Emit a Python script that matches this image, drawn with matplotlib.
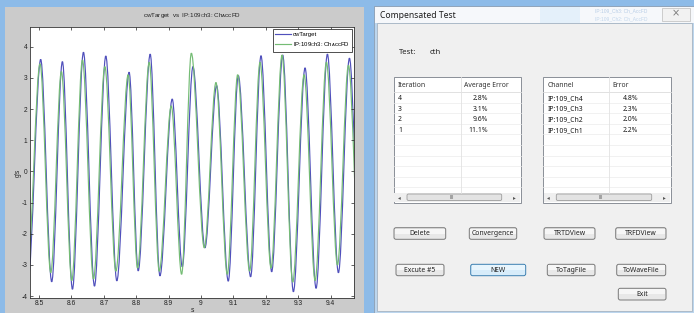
import matplotlib
matplotlib.use('Agg')
import matplotlib.pyplot as plt
from matplotlib.path import Path
from matplotlib.patches import PathPatch, Rectangle, FancyBboxPatch
from matplotlib.lines import Line2D

plt.rcParams['font.family'] = ['Liberation Sans', 'DejaVu Sans']
plt.rcParams['mathtext.fontset'] = 'custom'
plt.rcParams['mathtext.rm'] = 'Liberation Sans'

# 波形の極値 (時刻 s, 値 g's) - 図から読み取り
target_t = [8.466, 8.505, 8.539, 8.572, 8.603, 8.637, 8.671, 8.706, 8.740, 8.778,
            8.806, 8.843, 8.873, 8.911, 8.942, 8.975, 9.012, 9.048, 9.084, 9.115,
            9.153, 9.185, 9.218, 9.252, 9.285, 9.321, 9.355, 9.390, 9.424, 9.458, 9.492]
target_v = [-3.45, 3.59, -3.54, 3.52, -3.78, 3.82, -3.68, 3.70, -3.51, 3.18,
            -3.19, 3.76, -3.35, 2.32, -3.06, 3.36, -2.45, 2.75, -3.52, 3.07,
            -3.38, 3.71, -3.22, 3.73, -3.86, 3.32, -3.75, 3.76, -3.25, 3.63, -3.30]
accfd_t = [8.464, 8.503, 8.536, 8.569, 8.601, 8.634, 8.668, 8.703, 8.737, 8.775,
           8.804, 8.840, 8.871, 8.908, 8.940, 8.970, 9.010, 9.046, 9.081, 9.113,
           9.150, 9.182, 9.216, 9.250, 9.283, 9.318, 9.352, 9.387, 9.421, 9.455, 9.490]
accfd_v = [-3.20, 3.45, -3.25, 3.20, -3.50, 3.57, -3.45, 3.36, -3.20, 3.10,
           -3.10, 3.50, -3.20, 2.10, -3.30, 3.79, -2.45, 2.85, -3.30, 3.10,
           -3.20, 3.50, -3.10, 3.73, -3.55, 3.10, -3.50, 3.50, -3.00, 3.40, -3.10]

x_ticks = [8.5, 8.6, 8.7, 8.8, 8.9, 9.0, 9.1, 9.2, 9.3, 9.4]
x_tick_labels = ['8.5', '8.6', '8.7', '8.8', '8.9', '9', '9.1', '9.2', '9.3', '9.4']
y_ticks = [-4, -3, -2, -1, 0, 1, 2, 3, 4]
y_tick_labels = ['-4', '-3', '-2', '-1', '0', '1', '2', '3', '4']

iterations = ['4', '3', '2', '1']
avg_errors = ['2.8%', '3.1%', '9.6%', '11.1%']
channels = ['IP:109_Ch4', 'IP:109_Ch3', 'IP:109_Ch2', 'IP:109_Ch1']
channel_errors = ['4.8%', '2.3%', '2.0%', '2.2%']
button_labels = ['Delete', 'Convergence', 'TRTDView', 'TRFDView',
                 'Excute #5', 'NEW', 'ToTagFile', 'ToWaveFile', 'Exit']

W, H = 694, 313
UI = ['Noto Sans', 'DejaVu Sans']
BLUE = '#5050bc'
GREEN = '#74bc74'


def wave_path(t, v):
    # 極値の間を水平接線のベジェで結ぶ
    verts = [(t[0], v[0])]
    codes = [Path.MOVETO]
    for i in range(1, len(t)):
        dt = t[i] - t[i - 1]
        verts += [(t[i - 1] + dt / 3, v[i - 1]), (t[i] - dt / 3, v[i]), (t[i], v[i])]
        codes += [Path.CURVE4] * 3
    return Path(verts, codes)


def button(ov, x0, x1, y0, y1, label, active=False):
    face = '#d7ecfa' if active else '#e8e8e8'
    edge = '#3c7fb1' if active else '#7a7a7a'
    ov.add_patch(FancyBboxPatch((x0, y0), x1 - x0, y1 - y0,
                                boxstyle='round,pad=0,rounding_size=2',
                                fc=face, ec=edge, lw=0.7))
    ov.add_patch(Rectangle((x0 + 1, y0 + 1), x1 - x0 - 2, (y1 - y0) / 2 - 1,
                           fc='#f6f6f6' if not active else '#e8f5fd', lw=0))
    ov.text((x0 + x1) / 2, (y0 + y1) / 2 + 0.3, label, ha='center', va='center',
            fontsize=4.9, family=UI, color='#202020')


def listbox(ov, x0, x1, xdiv, col1, col2, head1, head2, right2):
    y0, y1 = 77.3, 202.7
    ov.add_patch(Rectangle((x0, y0), x1 - x0, y1 - y0, fc='white', ec='#8a8f98', lw=0.7))
    ov.plot([x0, x1], [92, 92], color='#dcdcdc', lw=0.6)
    y = 92 + 10.6
    while y < 192:
        ov.plot([x0, x1], [y, y], color='#ececec', lw=0.5)
        y += 10.6
    ov.plot([xdiv, xdiv], [y0, 192.7], color='#e2e2e2', lw=0.6)
    ov.text(x0 + 4, 85.5, head1, fontsize=4.9, family=UI, va='center', color='#333333')
    ov.text(xdiv + 3.5, 85.5, head2, fontsize=4.9, family=UI, va='center', color='#333333')
    for i, (a, b) in enumerate(zip(col1, col2)):
        yy = 98.6 + 10.6 * i
        ov.text(x0 + 4, yy, a, fontsize=4.9, family=UI, va='center', color='#1a1a1a')
        ov.text(right2, yy, b, fontsize=4.9, family=UI, va='center', ha='right', color='#1a1a1a')
    # スクロールバー
    ov.add_patch(Rectangle((x0 + 0.5, 192.7), x1 - x0 - 1, 9.5, fc='#efefef', lw=0))
    ov.add_patch(FancyBboxPatch((x0 + 13, 194), x1 - x0 - 32, 6.5,
                                boxstyle='round,pad=0,rounding_size=1.5',
                                fc='#e3e3e3', ec='#9c9c9c', lw=0.6))
    ov.text(x0 + 5, 197.3, '◂', fontsize=4, ha='center', va='center', color='#555555')
    ov.text(x1 - 6, 197.3, '▸', fontsize=4, ha='center', va='center', color='#555555')
    ov.text((x0 + x1) / 2 - 6, 197.3, 'III', fontsize=4, ha='center', va='center', color='#666666')


fig = plt.figure(figsize=(W / 100, H / 100), dpi=100)
fig.patch.set_facecolor('#8dbbe8')

# 背景 (画素座標)
ov = fig.add_axes([0, 0, 1, 1], zorder=0)
ov.set_xlim(0, W)
ov.set_ylim(H, 0)
ov.axis('off')

ov.add_patch(Rectangle((5, 7), 359, 306, fc='#cbcbcb', lw=0))

# ダイアログ
ov.add_patch(Rectangle((374, 6), 322, 308, fc='#bcd6ee', ec='#8e9fb2', lw=0.6))
ov.add_patch(Rectangle((375, 6.5), 320, 16.5, fc='#f6f8fb', lw=0))
ov.add_patch(Rectangle((540, 7), 40, 16, fc='#e4f0fa', lw=0))
ov.text(595, 11, 'IP:109_Ch3: Ch_AccFD', fontsize=3.5, color='#b8cde6', va='center')
ov.text(595, 19, 'IP:109_Ch2: Ch_AccFD', fontsize=3.5, color='#c2d6ec', va='center')
ov.add_patch(Rectangle((662, 7.5), 28, 13, fc='#f2f2f2', ec='#c6c6c6', lw=0.6))
ov.text(676, 13.5, '×', fontsize=7, ha='center', va='center', color='#7a7a7a', family='DejaVu Sans')
ov.text(380, 15, 'Compensated Test', fontsize=6.2, family=UI, va='center', color='#1e1e1e')
ov.add_patch(Rectangle((377, 23), 315, 287.5, fc='#f0f0f0', ec='#a6b4c2', lw=0.6))

ov.text(399, 53, 'Test:', fontsize=5.6, family=UI, va='center', color='#222222')
ov.text(430, 53, 'cth', fontsize=5.6, family=UI, va='center', color='#222222')

listbox(ov, 394, 520.7, 460.7, iterations, avg_errors, 'Iteration', 'Average Error', 488)
listbox(ov, 543.3, 670.7, 609, channels, channel_errors, 'Channel', 'Error', 638.5)

button_boxes = [(394, 445.7, 227.7, 239.3), (469.3, 516.7, 227.7, 239.3),
                (544, 595, 227.7, 239.3), (615.7, 666, 227.7, 239.3),
                (396, 444, 264.3, 275.7), (470.7, 525.7, 264.3, 275.7),
                (547.3, 595, 264.3, 275.7), (616.7, 665.7, 264.3, 275.7),
                (618.3, 666, 288.3, 300)]
for (x0, x1, y0, y1), lab in zip(button_boxes, button_labels):
    button(ov, x0, x1, y0, y1, lab, active=(lab == 'NEW'))

# 波形プロット
ax = fig.add_axes([30 / W, 1 - 297.7 / H, (354.3 - 30) / W, (297.7 - 27.3) / H], zorder=1)
ax.set_facecolor('white')
ax.add_patch(PathPatch(wave_path(target_t, target_v), fill=False, ec=BLUE, lw=0.85))
ax.add_patch(PathPatch(wave_path(accfd_t, accfd_v), fill=False, ec=GREEN, lw=0.85))
ax.set_xlim(8.472, 9.473)
ax.set_ylim(-4.05, 4.62)
ax.set_xticks(x_ticks)
ax.set_xticklabels(x_tick_labels)
ax.set_yticks(y_ticks)
ax.set_yticklabels(y_tick_labels)
ax.tick_params(direction='in', length=2, width=0.5, labelsize=4.8, pad=2,
               top=True, right=True, colors='#222222')
for s in ax.spines.values():
    s.set_linewidth(0.6)
    s.set_color('#333333')

handles = [Line2D([], [], color=BLUE, lw=0.85), Line2D([], [], color=GREEN, lw=0.85)]
leg = ax.legend(handles, ['cwTarget', r'IP:109$_\mathrm{C}$h3: Ch$_\mathrm{A}$ccFD'],
                loc='upper right', fontsize=4.3, fancybox=False, framealpha=1,
                edgecolor='#333333', borderpad=0.45, labelspacing=0.55,
                handlelength=2.6, handletextpad=0.3, borderaxespad=0.35)
leg.get_frame().set_linewidth(0.6)

ov.text(192, 15.5, r'cwTarget  vs  IP:109$_\mathrm{C}$h3: Ch$_\mathrm{A}$ccFD',
        fontsize=4.5, ha='center', va='center', color='#222222')
ov.text(18, 173, "g's", fontsize=4.8, rotation=90, ha='center', va='center', color='#222222')
ov.text(192, 311, 's', fontsize=4.8, ha='center', va='center', color='#222222')

fig.savefig('out.png', dpi=100)
plt.close(fig)
